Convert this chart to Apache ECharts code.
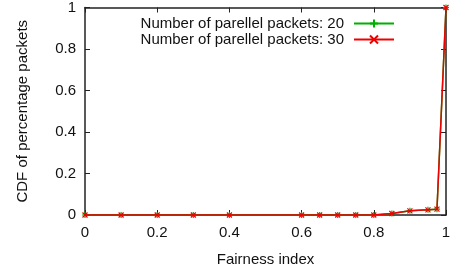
<!DOCTYPE html>
<html><head><meta charset="utf-8">
<script src="https://cdn.jsdelivr.net/npm/echarts@6/dist/echarts.min.js"></script>
<style>html,body{margin:0;padding:0;background:#fff}#c{width:468px;height:273px}</style>
</head><body><div id="c"></div>
<script>
const xValues = [0, 0.1, 0.2, 0.3, 0.4, 0.6, 0.65, 0.7, 0.75, 0.8, 0.85, 0.9, 0.95, 0.975, 1.0];
const series20 = [0, 0, 0, 0, 0, 0, 0, 0, 0, 0, 0.007, 0.02, 0.025, 0.028, 1.0];
const series30 = [0, 0, 0, 0, 0, 0, 0, 0, 0, 0, 0.007, 0.02, 0.025, 0.028, 1.0];
const seriesNames = ['Number of parellel packets: 20', 'Number of parellel packets: 30'];
const xTicks = [0, 0.2, 0.4, 0.6, 0.8, 1];
const yTicks = [0, 0.2, 0.4, 0.6, 0.8, 1];

const font = 'Liberation Sans, Arial, sans-serif';
const fs = 15;
const plus = 'path://M0,5L10,5M5,0L5,10';
const cross = 'path://M0,0L10,10M10,0L0,10';
function pts(ys){ return xValues.map((x,i)=>[x, ys[i]]); }
const axisCommon = {
  type:'value', min:0, max:1, interval:0.2,
  axisLine:{show:true, onZero:false, lineStyle:{color:'#222', width:1.5}},
  axisTick:{show:true, inside:true, length:5, lineStyle:{color:'#222'}},
  splitLine:{show:false}
};
const chart = echarts.init(document.getElementById('c'), null, {renderer:'canvas'});
chart.setOption({
  animation:false,
  backgroundColor:'#fff',
  grid:{left:85, right:22, top:7, bottom:58, show:false},
  legend:{
    top:11, right:68, orient:'vertical', align:'right', itemGap:1,
    itemWidth:40, itemHeight:10,
    textStyle:{fontFamily:font, fontSize:fs, color:'#111', padding:[0,5,0,0]},
    data:seriesNames
  },
  xAxis:[
    Object.assign({}, axisCommon, {position:'bottom',
      name:'Fairness index', nameLocation:'middle', nameGap:37,
      nameTextStyle:{fontFamily:font, fontSize:fs, color:'#111'},
      axisLabel:{fontFamily:font, fontSize:fs, color:'#111', margin:10,
        formatter:v=>xTicks.includes(+v.toFixed(2))?String(+v.toFixed(2)):''}}),
    Object.assign({}, axisCommon, {position:'top', axisLabel:{show:false}})
  ],
  yAxis:[
    Object.assign({}, axisCommon, {position:'left',
      name:'CDF of percentage packets', nameLocation:'middle', nameGap:55,
      nameTextStyle:{fontFamily:font, fontSize:fs, color:'#111'},
      axisLabel:{fontFamily:font, fontSize:fs, color:'#111', margin:9,
        formatter:v=>yTicks.includes(+v.toFixed(2))?String(+v.toFixed(2)):''}}),
    Object.assign({}, axisCommon, {position:'right', axisLabel:{show:false}})
  ],
  series:[
    {name:seriesNames[0], type:'line', data:pts(series20), symbol:plus, symbolSize:6,
     lineStyle:{color:'#00b000', width:1.5}, itemStyle:{color:'#00b000', borderColor:'#00b000', borderWidth:1.2}, z:2},
    {name:seriesNames[1], type:'line', data:pts(series30), symbol:cross, symbolSize:5,
     lineStyle:{color:'#ee0000', width:1.5}, itemStyle:{color:'#ee0000', borderColor:'#ee0000', borderWidth:1.2}, z:3}
  ]
});
</script></body></html>
